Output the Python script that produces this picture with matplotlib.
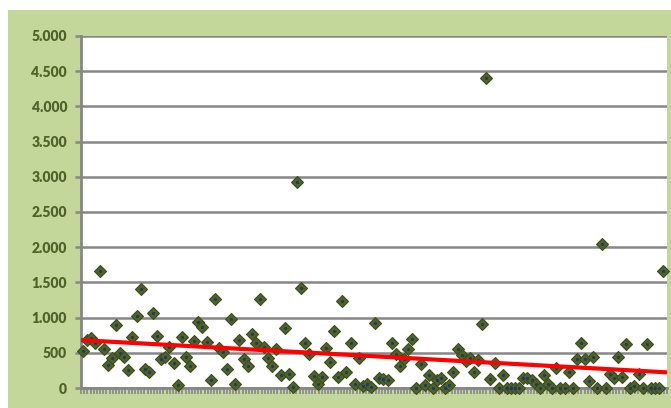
import numpy as np
import matplotlib
matplotlib.use("Agg")
import matplotlib.pyplot as plt
from matplotlib.ticker import FuncFormatter, MultipleLocator

# valores, de izquierda a derecha
valores = [
    525, 682, 714, 643, 1666, 550, 327, 421, 895, 502,
    436, 256, 729, 1023, 1411, 265, 232, 1070, 743, 407,
    436, 578, 351, 43, 720, 436, 317, 672, 933, 862,
    658, 114, 1260, 564, 516, 270, 976, 57, 682, 405,
    309, 762, 633, 1271, 586, 428, 309, 557, 190, 847,
    205, 14, 2922, 1414, 633, 486, 167, 62, 157, 571,
    367, 804, 157, 1233, 224, 643, 62, 428, 24, 62,
    10, 928, 143, 129, 110, 643, 481, 309, 414, 557,
    690, 0, 338, 48, 190, 0, 110, 143, 0, 38,
    224, 557, 462, 381, 428, 224, 395, 904, 4403, 129,
    357, 0, 190, 0, 0, 0, 0, 143, 143, 110,
    62, 0, 190, 62, 0, 286, 0, 0, 224, 0,
    419, 643, 405, 95, 443, 0, 2045, 0, 205, 143,
    443, 157, 619, 0, 33, 205, 0, 619, 0, 0,
    0, 1662,
]
x = np.arange(1, len(valores) + 1)
y = np.array(valores, dtype=float)

verde_fondo = "#c4d79b"
verde_texto = "#4f6228"
gris = "#878787"

fig = plt.figure(figsize=(6.71, 4.08), dpi=100, facecolor="white")
# fondo verde del área del gráfico
fondo = fig.add_axes([8 / 671, 0, 1, 1 - 10 / 408], zorder=-10)
fondo.set_facecolor(verde_fondo)
fondo.set_axis_off()
fondo.add_patch(plt.Rectangle((0, 0), 1, 1, transform=fondo.transAxes,
                              color=verde_fondo))

ax = fig.add_axes([81 / 671, 1 - 388 / 408, (667 - 81) / 671, (388 - 36) / 408])
ax.set_facecolor("white")

xmin, xmax = 0.5, len(valores) + 0.9
ax.set_xlim(xmin, xmax)
ax.set_ylim(0, 5000)

# cuadrícula horizontal
ax.yaxis.set_major_locator(MultipleLocator(500))
ax.grid(axis="y", color=gris, linewidth=1.8, zorder=1)
ax.set_axisbelow(True)

# puntos
ax.plot(x, y, linestyle="none", marker="D", markersize=6,
        markerfacecolor="#4f6228", markeredgecolor="#3d4d1f",
        markeredgewidth=0.8, zorder=3, clip_on=False)
ax.plot(x, y, linestyle="none", marker="o", markersize=1.3,
        color="#1f3864", zorder=4, clip_on=False)

# línea de tendencia lineal
m, b = np.polyfit(x, y, 1)
xt = np.array([xmin, xmax])
ax.plot(xt, m * xt + b, color="#ff0000", linewidth=3, zorder=5,
        solid_capstyle="butt")

# ejes
for lado in ["top", "right"]:
    ax.spines[lado].set_visible(False)
ax.spines["left"].set_color(gris)
ax.spines["left"].set_linewidth(2)
ax.spines["bottom"].set_color(gris)
ax.spines["bottom"].set_linewidth(2)

ax.yaxis.set_major_formatter(FuncFormatter(lambda v, p: f"{int(v):,}".replace(",", ".")))
ax.tick_params(axis="y", length=4, width=1.8, color=gris, pad=6,
               labelcolor=verde_texto, labelsize=10)
for t in ax.get_yticklabels():
    t.set_fontfamily(["Lato", "DejaVu Sans"])
    t.set_fontweight("heavy")

ax.set_xticks(np.linspace(xmin, xmax, 186))
ax.tick_params(axis="x", length=4, width=1.2, color=gris, labelbottom=False)

fig.savefig("out.png", dpi=100, facecolor=fig.get_facecolor())
